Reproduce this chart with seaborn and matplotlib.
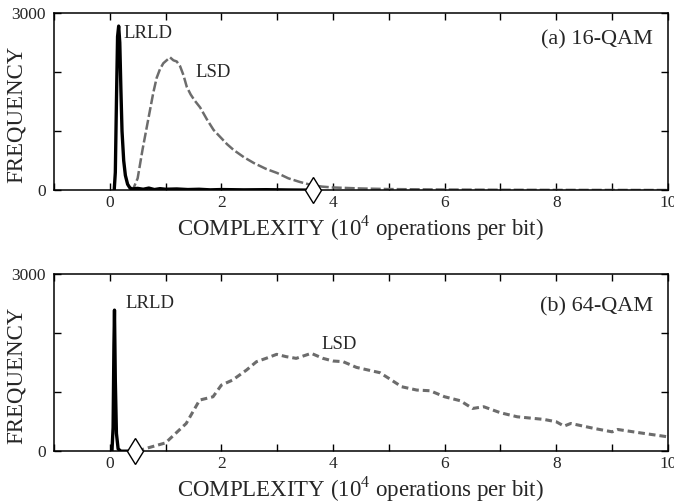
import matplotlib
matplotlib.use("Agg")
import matplotlib.pyplot as plt
import seaborn as sns
from matplotlib.ticker import MultipleLocator, FixedLocator, FixedFormatter

# ---------------- data ----------------
# (a) 16-QAM
a_lsd_x = [0.35, 0.42, 0.50, 0.59, 0.66, 0.72, 0.78, 0.84, 0.90, 0.96, 1.02, 1.08, 1.14, 1.20,
           1.26, 1.32, 1.38, 1.45, 1.52, 1.62, 1.74, 1.86, 2.00, 2.10, 2.22, 2.40, 2.58, 2.80,
           3.00, 3.20, 3.40, 3.60, 3.80, 4.00, 4.50, 5.00, 6.00, 7.00, 8.00, 9.00, 10.00]
a_lsd_y = [0, 20, 200, 700, 1050, 1350, 1650, 1900, 2050, 2150, 2200, 2250, 2200, 2180,
           2100, 1950, 1750, 1620, 1520, 1400, 1200, 1020, 880, 780, 680, 560, 460, 360,
           290, 200, 140, 90, 60, 45, 28, 18, 10, 6, 4, 3, 2]
a_lrld_x = [0.08, 0.10, 0.12, 0.14, 0.16, 0.18, 0.20, 0.22, 0.25, 0.28, 0.32, 0.36, 0.40,
            0.50, 0.60, 0.70, 0.80, 0.90, 1.00, 1.20, 1.40, 1.60, 1.80, 2.00, 2.40, 2.80,
            3.20, 3.65]
a_lrld_y = [0, 300, 1500, 2600, 2780, 2500, 1700, 1000, 500, 250, 100, 40, 20,
            30, 15, 35, 10, 25, 15, 20, 10, 15, 5, 10, 5, 8, 3, 0]
a_end_x = [3.65]
a_end_y = [0]

# (b) 64-QAM
b_lsd_x = [0.50, 0.54, 1.00, 1.37, 1.49, 1.61, 1.85, 2.00, 2.20, 2.45, 2.63, 2.80, 2.99,
           3.16, 3.34, 3.61, 3.82, 4.00, 4.18, 4.42, 4.84, 5.00, 5.23, 5.50, 5.74, 6.00,
           6.28, 6.50, 6.70, 7.00, 7.30, 7.78, 8.00, 8.14, 8.26, 8.68, 9.00, 9.10, 9.50, 10.00]
b_lsd_y = [0, 17, 141, 470, 668, 866, 922, 1120, 1205, 1375, 1517, 1573, 1641,
           1602, 1573, 1658, 1573, 1528, 1517, 1420, 1330, 1234, 1092, 1036, 1024, 922,
           855, 724, 753, 651, 583, 538, 498, 425, 470, 385, 328, 368, 311, 243]
b_lrld_x = [0.04, 0.06, 0.075, 0.085, 0.10, 0.12, 0.15, 0.20, 0.30, 0.45]
b_lrld_y = [0, 400, 1800, 2390, 1200, 300, 40, 0, 0, 0]
b_end_x = [0.45]
b_end_y = [0]

x_ticks = [0, 2, 4, 6, 8, 10]
y_ticks = [0, 1000, 2000, 3000]
y_ticklabels = ["0", "", "", "3000"]
xlabel = "COMPLEXITY (10$^4$ operations per bit)"
ylabel = "FREQUENCY"

sns.set_theme(style="white")
plt.rcParams['font.family'] = ['Liberation Serif', 'DejaVu Serif']
plt.rcParams['mathtext.fontset'] = 'custom'
plt.rcParams['mathtext.rm'] = 'Liberation Serif'

fig = plt.figure(figsize=(6.74, 5.03), dpi=100)
ax1 = fig.add_axes([0.080, 0.622, 0.911, 0.352])
ax2 = fig.add_axes([0.080, 0.103, 0.911, 0.352])

grey = "#6c6c6c"

def style(ax, label_y):
    ax.set_xlim(-1, 10)
    ax.set_ylim(0, 3000)
    ax.xaxis.set_major_locator(FixedLocator(x_ticks))
    ax.xaxis.set_minor_locator(MultipleLocator(1))
    ax.yaxis.set_major_locator(FixedLocator(y_ticks))
    ax.yaxis.set_major_formatter(FixedFormatter(y_ticklabels))
    ax.tick_params(which='both', direction='in', top=True, right=True,
                   bottom=True, left=True, length=5, width=1, color='black',
                   labelsize=12.5, pad=6)
    ax.tick_params(axis='x', which='both', pad=3.5)
    for s in ax.spines.values():
        s.set_color('black')
        s.set_linewidth(1.1)
    ax.set_xlabel(xlabel, fontsize=16.5)
    ax.xaxis.label.set_va('center')
    ax.xaxis.set_label_coords(0.5, label_y)
    ax.set_ylabel(ylabel, fontsize=16.5)
    ax.yaxis.label.set_va('center')
    ax.yaxis.set_label_coords(-0.061, 0.43)

# top panel
sns.lineplot(x=a_lsd_x, y=a_lsd_y, ax=ax1, color=grey, lw=1.8,
             linestyle=(0, (4, 1.2)))
sns.lineplot(x=a_lrld_x, y=a_lrld_y, ax=ax1, color='black', lw=2.4)
ax1.plot(a_end_x, a_end_y, marker='d', markersize=13, markerfacecolor='white',
         markeredgecolor='black', markeredgewidth=1, linestyle='none', clip_on=False, zorder=5)
ax1.text(0.25, 2660, "LRLD", fontsize=13.5, va='center', ha='left')
ax1.text(1.53, 2000, "LSD", fontsize=13.5, va='center', ha='left')
ax1.text(9.73, 2540, "(a) 16-QAM", fontsize=16, va='center', ha='right')
style(ax1, -0.215)

# bottom panel
sns.lineplot(x=b_lsd_x, y=b_lsd_y, ax=ax2, color=grey, lw=2.2,
             linestyle=(0, (2.2, 1.3)))
sns.lineplot(x=b_lrld_x, y=b_lrld_y, ax=ax2, color='black', lw=2.4)
ax2.plot(b_end_x, b_end_y, marker='d', markersize=13, markerfacecolor='white',
         markeredgecolor='black', markeredgewidth=1, linestyle='none', clip_on=False, zorder=5)
ax2.text(0.29, 2510, "LRLD", fontsize=13.5, va='center', ha='left')
ax2.text(3.8, 1800, "LSD", fontsize=13.5, va='center', ha='left')
ax2.text(9.73, 2440, "(b) 64-QAM", fontsize=16, va='center', ha='right')
style(ax2, -0.212)

fig.savefig("out.png", dpi=100)
